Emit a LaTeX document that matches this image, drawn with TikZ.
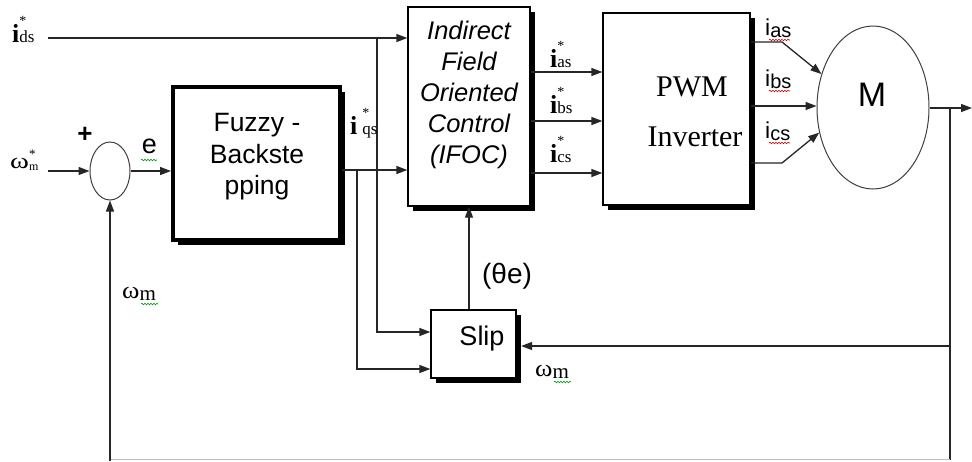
\documentclass[tikz,border=0pt]{standalone}
\usepackage{fontspec}
\setmainfont{Liberation Serif}
\setsansfont{Liberation Sans}
\usetikzlibrary{arrows.meta,shapes.geometric,shadows,decorations.pathmorphing,calc}
\newcommand\fs[1]{\fontsize{#1}{#1}\selectfont}
\newcommand\fsz[2]{\fontsize{#1}{#2}\selectfont}
\newcommand\istar[1]{{\fs{26}\bfseries i}\makebox[0pt][l]{\raisebox{17pt}{\fs{14}*}}{\fs{17}#1}}
\newcommand\isub[1]{{\sffamily\fs{23}i}{\sffamily\fs{20}\raisebox{-2pt}{#1}}}
\newcommand\omm{{\fs{24}\scalebox{1.1}[1]{ω}}{\fs{21}\raisebox{-2pt}{m}}}
\begin{document}
\begin{tikzpicture}[x=1pt,y=-1pt,
  wire/.style={line width=1.3pt, draw=black!85},
  arr/.style={wire, -{Triangle[length=11pt,width=8pt]}},
  blk/.style={draw, line width=1.3pt, fill=white, inner sep=0pt,
    drop shadow={shadow xshift=4.5pt, shadow yshift=-4.5pt, fill=black, opacity=1}},
  ell/.style={draw=black!75, line width=1pt, ellipse, fill=white, inner sep=0pt},
  wavy/.style={decorate, decoration={snake, amplitude=0.8pt, segment length=3pt}, line width=0.6pt},
  lbl/.style={anchor=base west, inner sep=0pt}]
\fill[white] (0,0) rectangle (972,461);
\useasboundingbox (0,0) rectangle (972,461);

% blocks
\node[ell, minimum width=40pt, minimum height=58pt] (sum) at (110,171) {};
\node[draw, line width=4pt, fill=white, inner sep=0pt, minimum width=167pt, minimum height=153pt,
  drop shadow={shadow xshift=5pt, shadow yshift=-5pt, fill=black, opacity=1}] (fuzzy) at (256.5,163.5) {};
\node[blk, minimum width=122pt, minimum height=199pt] (ifoc) at (469,106.5) {};
\node[blk, minimum width=147pt, minimum height=192pt] (pwm) at (676.5,109) {};
\node[ell, minimum width=112pt, minimum height=163pt] (mot) at (873,107.5) {};
\node[blk, minimum width=85pt, minimum height=68pt] (slip) at (473.5,344) {};

% block texts
\node[font=\sffamily\fsz{26.5}{31.5}, align=center] (fuzzytxt) at (257,157) {Fuzzy -\\Backste\\pping};
\node[font=\sffamily\itshape\fsz{25.5}{31}, align=center] (ifoctxt) at (469,95) {Indirect\\Field\\Oriented\\Control\\(IFOC)};
\node[font=\fs{30}] (pwmA) at (692,87) {PWM};
\node[font=\fs{30}] (pwmB) at (695,137) {Inverter};
\node[font=\sffamily\fs{34}] (mtxt) at (872,95) {M};
\node[font=\sffamily\fs{27}] (sliptxt) at (482,339) {Slip};

% coordinates
\coordinate (ids) at (48,38);
\coordinate (tapd) at (377,38);
\coordinate (wref) at (48,171);
\coordinate (tapq) at (357,170);
\coordinate (ka) at (782,42);
\coordinate (kc) at (782,163);
\coordinate (outend) at (972,108);
\coordinate (tap) at (950,108);
\coordinate (br) at (950,459.5);
\coordinate (bl) at (110,459.5);
\coordinate (blb) at (110,461);

% connectors
\draw[arr] (ids) -- (ifoc.west |- ids);
\draw[arr] (tapd) |- (slip.west |- 0,332);
\draw[arr] (wref) -- (sum.west);
\draw[arr] (sum.east) -- (fuzzy.west |- sum.east);
\draw[arr] (fuzzy.east |- tapq) -- (ifoc.west |- tapq);
\draw[arr] (tapq) |- (slip.west |- 0,369);
\draw[arr] (slip.north -| ifoc.south) -- (ifoc.south);
\draw[arr] (ifoc.east |- 0,72) -- (pwm.west |- 0,72);
\draw[arr] (ifoc.east |- 0,121) -- (pwm.west |- 0,121);
\draw[arr] (ifoc.east |- 0,173) -- (pwm.west |- 0,173);
\draw[arr] (pwm.east |- ka) -- (ka) -- (mot.147);
\draw[arr] (pwm.east |- 0,106) -- (mot.west |- 0,106);
\draw[arr] (pwm.east |- kc) -- (kc) -- (mot.205);
\draw[arr] (mot.east |- outend) -- (outend);
\draw[wire] (tap) -- (br);
\draw[arr] (tap |- 0,346) -- ($(slip.east |- 0,346)+(4.5,0)$);
\draw[line width=1pt, draw=black!25] (br) -- (bl);
\draw[arr] (blb) -- (sum.south);

% labels
\node[lbl] (lids) at (12,42) {\istar{ds}};
\node[lbl] (lwref) at (10,168) {{\fs{22}\scalebox{1.3}[1]{ω}}\makebox[0pt][l]{\raisebox{10pt}{\fs{13}*}}{\fs{12}\raisebox{-2pt}{m}}};
\node[font=\sffamily\bfseries\fs{26}] (plus) at (85,135) {+};
\node[font=\sffamily\fs{27}] (le) at (149.5,146) {e};
\node[lbl] (liqs) at (350,134) {{\fs{26}\bfseries i}\hspace{5pt}\makebox[0pt][l]{\raisebox{17pt}{\fs{14}*}}{\fs{17}qs}};
\node[lbl] (lias) at (550,67) {\istar{as}};
\node[lbl] (libs) at (550,113) {\istar{bs}};
\node[lbl] (lics) at (550,162) {\istar{cs}};
\node[lbl] (oas) at (765,35) {\isub{as}};
\node[lbl] (obs) at (765,86) {\isub{bs}};
\node[lbl] (ocs) at (765,138) {\isub{cs}};
\node[font=\sffamily\fs{28}] (theta) at (507,276) {(θe)};
\node[lbl] (wm1) at (122,298) {\omm};
\node[lbl] (wm2) at (535,376) {\omm};

% spell-check underlines
\draw[wavy, red!80!black] (769,40) -- (790,40);
\draw[wavy, red!80!black] (769,91) -- (790,91);
\draw[wavy, red!80!black] (769,143) -- (790,143);
\draw[wavy, green!60!black] (141,160) -- (157,160);
\draw[wavy, green!60!black] (141,304) -- (158,304);
\draw[wavy, green!60!black] (554,382) -- (571,382);
\end{tikzpicture}
\end{document}
